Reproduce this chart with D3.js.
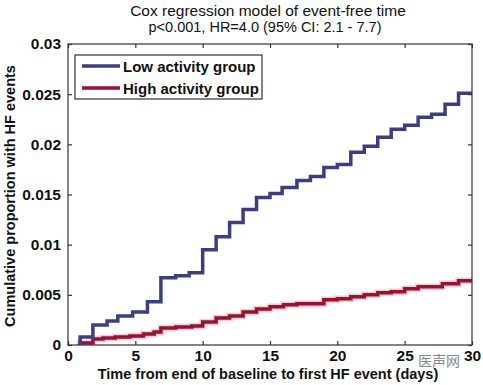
<!DOCTYPE html>
<html><head><meta charset="utf-8">
<script src="https://cdn.jsdelivr.net/npm/d3@7/dist/d3.min.js"></script>
<style>body{margin:0;background:#fff}svg{display:block}text{font-family:"Liberation Sans",Arial,sans-serif}</style>
</head><body><svg id="c" width="483" height="385"></svg>
<script>
const titleLines = ["Cox regression model of event-free time", "p<0.001, HR=4.0 (95% CI: 2.1 - 7.7)"];
const xLabel = "Time from end of baseline to first HF event (days)";
const yLabel = "Cumulative proportion with HF events";
const seriesNames = ["Low activity group", "High activity group"];
const xTicks = [0, 5, 10, 15, 20, 25, 30];
const yTicks = [0, 0.005, 0.01, 0.015, 0.02, 0.025, 0.03];
const yTickLabels = ["0", "0.005", "0.01", "0.015", "0.02", "0.025", "0.03"];

const lowTimes  = [0.9, 1.85, 2.9, 3.7, 4.8, 5.9, 6.9, 8.0, 9.0, 10.0, 11.0, 12.0, 13.0, 14.0, 15.0, 15.9, 17.0, 18.0, 19.0, 20.0, 21.0, 22.0, 23.0, 24.0, 25.0, 26.0, 27.0, 28.0, 29.0, 30.0];
const lowValues = [0.0008, 0.0020, 0.0024, 0.0029, 0.0033, 0.0043, 0.0067, 0.0069, 0.0072, 0.0095, 0.0108, 0.0122, 0.0135, 0.0147, 0.0151, 0.0157, 0.0164, 0.0168, 0.0177, 0.0180, 0.0192, 0.0198, 0.0207, 0.0215, 0.0219, 0.0227, 0.0230, 0.0240, 0.0251, 0.0251];
const highTimes  = [0.9, 1.85, 2.6, 3.5, 4.6, 5.6, 6.4, 6.9, 8.0, 9.2, 10.0, 11.0, 12.0, 13.0, 14.0, 15.0, 16.0, 17.0, 19.0, 20.0, 21.0, 22.0, 23.0, 24.0, 25.0, 26.0, 27.8, 29.0, 30.0];
const highValues = [0.0002, 0.0006, 0.0007, 0.0008, 0.0009, 0.0011, 0.0013, 0.0017, 0.0018, 0.0019, 0.0023, 0.0027, 0.0029, 0.0033, 0.0036, 0.0038, 0.0040, 0.0041, 0.0045, 0.0046, 0.0048, 0.0050, 0.0052, 0.0053, 0.0056, 0.0058, 0.0061, 0.0064, 0.0064];

const svg = d3.select("#c");
const L = 68, R = 472, T = 44, B = 345;
const x = d3.scaleLinear().domain([0, 30]).range([L, R]);
const y = d3.scaleLinear().domain([0, 0.03]).range([B, T]);
const axisColor = "#333";

// title
svg.append("text").attr("x", 268).attr("y", 16).attr("text-anchor", "middle")
  .attr("font-size", 15.5).attr("fill", "#111").text(titleLines[0]);
svg.append("text").attr("x", 265).attr("y", 32).attr("text-anchor", "middle")
  .attr("font-size", 14.5).attr("fill", "#111").text(titleLines[1]);

// clip
svg.append("clipPath").attr("id", "clip").append("rect")
  .attr("x", L).attr("y", T).attr("width", R - L).attr("height", B - T);

const line = d3.line().x(d => x(d[0])).y(d => y(d[1])).curve(d3.curveStepAfter);
function pts(ts, vs) { return [[ts[0], 0]].concat(ts.map((t, i) => [t, vs[i]])); }

const g = svg.append("g").attr("clip-path", "url(#clip)");
g.append("path").attr("d", line(pts(highTimes, highValues))).attr("fill", "none")
  .attr("stroke", "#f0a8b8").attr("stroke-width", 6.5).attr("opacity", 0.6);
g.append("path").attr("d", line(pts(highTimes, highValues))).attr("fill", "none")
  .attr("stroke", "#9a1232").attr("stroke-width", 3.5);
g.append("path").attr("d", line(pts(lowTimes, lowValues))).attr("fill", "none")
  .attr("stroke", "#3c3d85").attr("stroke-width", 3.5);

// axes box
svg.append("rect").attr("x", L).attr("y", T).attr("width", R - L).attr("height", B - T)
  .attr("fill", "none").attr("stroke", axisColor).attr("stroke-width", 1.2);

const fmtY = d => yTickLabels[yTicks.indexOf(d)];
const axB = d3.axisBottom(x).tickValues(xTicks).tickSizeInner(-4).tickSizeOuter(0).tickPadding(5);
const axT = d3.axisTop(x).tickValues(xTicks).tickSizeInner(-4).tickSizeOuter(0).tickFormat("");
const axL = d3.axisLeft(y).tickValues(yTicks).tickSizeInner(-4).tickSizeOuter(0).tickPadding(7).tickFormat(fmtY);
const axR = d3.axisRight(y).tickValues(yTicks).tickSizeInner(-4).tickSizeOuter(0).tickFormat("");

function style(sel, fs) {
  sel.select(".domain").remove();
  sel.selectAll("line").attr("stroke", axisColor).attr("stroke-width", 1.2);
  sel.selectAll("text").attr("font-size", fs).attr("font-weight", "bold").attr("fill", "#111")
    .style("font-family", '"Liberation Sans", Arial, sans-serif');
}
svg.append("g").attr("transform", `translate(0,${B})`).call(axB).call(style, 15.5);
svg.append("g").attr("transform", `translate(0,${T})`).call(axT).call(style, 15.5);
svg.append("g").attr("transform", `translate(${L},0)`).call(axL).call(style, 15.5);
svg.append("g").attr("transform", `translate(${R},0)`).call(axR).call(style, 15.5);

// axis labels
svg.append("text").attr("x", 268).attr("y", 379).attr("text-anchor", "middle")
  .attr("font-size", 14.5).attr("font-weight", "bold").attr("fill", "#111").text(xLabel);
svg.append("text").attr("transform", "translate(15,196) rotate(-90)").attr("text-anchor", "middle")
  .attr("font-size", 14.5).attr("font-weight", "bold").attr("fill", "#111").text(yLabel);

// legend
const lg = svg.append("g");
lg.append("rect").attr("x", 75).attr("y", 55).attr("width", 187).attr("height", 44)
  .attr("fill", "#fff").attr("stroke", axisColor).attr("stroke-width", 1.2);
const legColors = ["#3c3d85", "#9a1232"];
seriesNames.forEach((n, i) => {
  const yy = 66 + i * 22;
  lg.append("line").attr("x1", 82).attr("x2", 120).attr("y1", yy).attr("y2", yy)
    .attr("stroke", legColors[i]).attr("stroke-width", 3.5);
  lg.append("text").attr("x", 123).attr("y", yy + 5.5).attr("font-size", 15)
    .attr("font-weight", "bold").attr("fill", "#111").text(n);
});

// watermark
svg.append("text").attr("x", 418).attr("y", 366).attr("font-size", 14)
  .attr("fill", "#888").style("font-family", '"Noto Sans CJK SC", sans-serif').text("医声网");
</script></body></html>
